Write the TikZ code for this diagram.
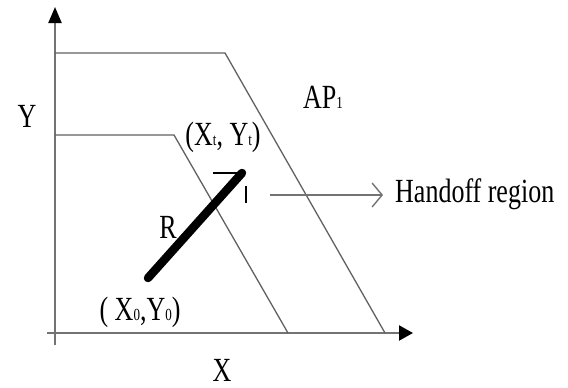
\documentclass[tikz,border=0pt]{standalone}
\usepackage{fontspec}
\usepackage{graphicx}
\setmainfont{Liberation Serif}
\usetikzlibrary{arrows.meta}
\newcommand{\vstr}[1]{\scalebox{1}[1.3]{#1}}
\newcommand{\lowsub}[1]{\raisebox{-0.02em}{\fontsize{13}{14}\selectfont #1}}
\begin{document}
\begin{tikzpicture}[x=1pt,y=-1pt,
  axis/.style={draw=black!55,line width=2.2pt},
  region/.style={draw=black!62,line width=1.3pt},
  lbl/.style={inner sep=0pt,font=\fontsize{26}{30}\selectfont}]
\useasboundingbox (0,0) rectangle (568,388);
% axes
\coordinate (ytop) at (55,7);
\coordinate (ybot) at (55,345);
\coordinate (xl) at (47,333);
\coordinate (xr) at (413,333);
\draw[axis,-{Triangle[length=16pt,width=13pt,color=black]}] (ybot) -- (ytop);
\draw[axis,-{Triangle[length=14pt,width=15pt,color=black]}] (xl) -- (xr);
% regions
\coordinate (o1) at (55,53);
\coordinate (o2) at (225,53);
\coordinate (o3) at (385,333);
\coordinate (i1) at (55,135);
\coordinate (i2) at (174,135);
\coordinate (i3) at (288,333);
\draw[region] (o1) -- (o2) -- (o3);
\draw[region] (i1) -- (i2) -- (i3);
% movement R
\coordinate (p0) at (148,278);
\coordinate (pt) at (242,173);
\draw[line width=8.5pt,line cap=round] (p0) -- (pt);
\coordinate (h1) at (213,173);
\coordinate (v1) at (246,186);
\coordinate (v2) at (246,203);
\draw[line width=1.8pt] (h1) -- (pt);
\draw[line width=1.8pt] (v1) -- (v2);
% handoff arrow
\node[lbl,anchor=base west] (ho) at (395,202) {\vstr{Handoff region}};
\coordinate (hs) at (270,195);
\coordinate (he) at (383,195);
\draw[draw=black!55,line width=1.8pt,-{Straight Barb[length=10pt,width=24pt,line width=1.4pt]}] (hs) -- (he);
% labels
\node[lbl] (ylab) at (27,116) {\vstr{Y}};
\node[lbl] (xlab) at (222,370) {\vstr{X}};
\node[lbl,anchor=base] (ap) at (323,108) {\vstr{AP\lowsub{1}}};
\node[lbl,anchor=base] (xt) at (223,145) {\vstr{(X\lowsub{t}, Y\lowsub{t})}};
\node[lbl,anchor=base] (x0) at (140,320) {\vstr{( X\lowsub{0},Y\lowsub{0})}};
\node[lbl] (r) at (168,227) {\vstr{R}};
\end{tikzpicture}
\end{document}
